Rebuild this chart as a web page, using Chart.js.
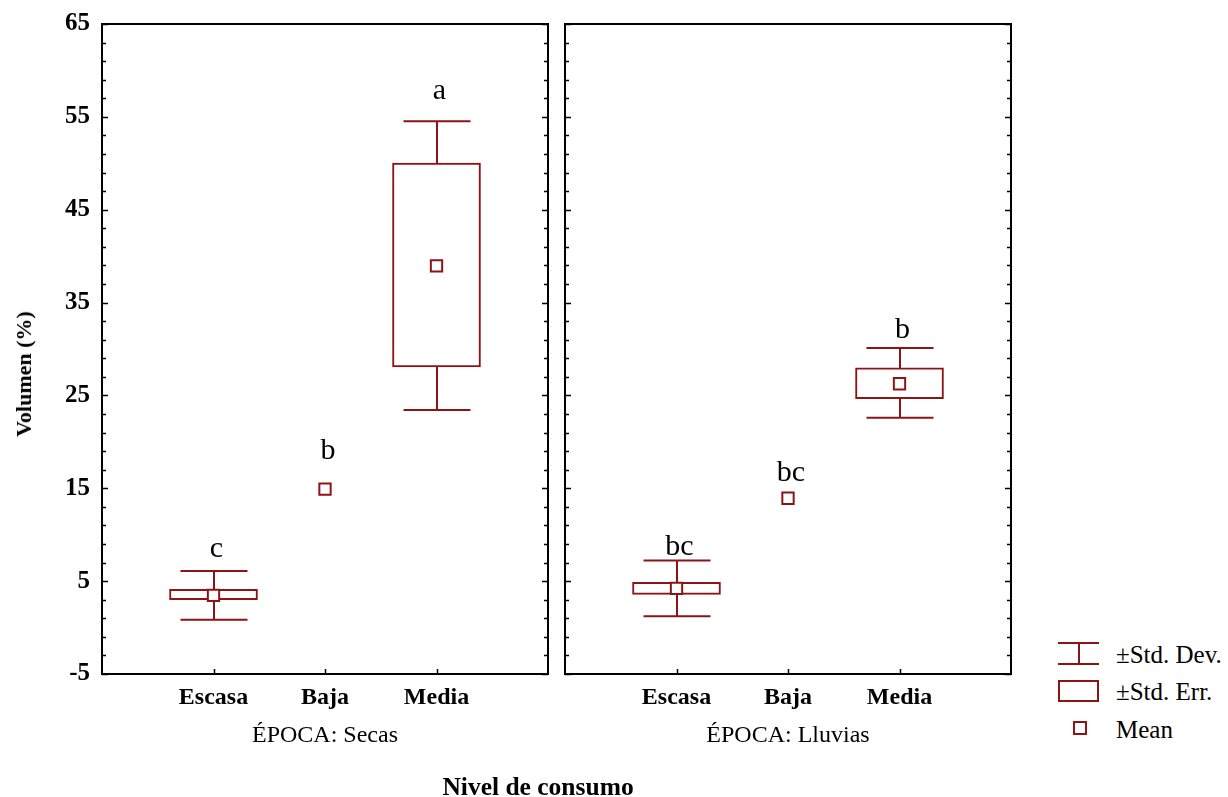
<!DOCTYPE html>
<html>
<head>
<meta charset="utf-8">
<script src="https://cdn.jsdelivr.net/npm/chart.js@4.4.0/dist/chart.umd.min.js"></script>
<style>
  html, body { margin: 0; padding: 0; background: #fff; }
  body { width: 1228px; height: 797px; position: relative; overflow: hidden; font-family: "Liberation Serif", "Times New Roman", serif; color: #000; }
  #c1 { position: absolute; left: 0; top: 0; }
  #c2 { position: absolute; left: 553px; top: 0; }
  .ytitle { position: absolute; left: 24px; top: 374px; transform: translate(-50%, -50%) rotate(-90deg); font-weight: bold; font-size: 22px; white-space: nowrap; }
  .xtitle { position: absolute; left: 538px; top: 787px; transform: translate(-50%, -50%); font-weight: bold; font-size: 25.5px; white-space: nowrap; }
  .lg { position: absolute; box-sizing: border-box; }
  .lgtext { position: absolute; left: 1116px; font-size: 25px; white-space: nowrap; transform: translateY(-50%); }
</style>
</head>
<body>
<canvas id="c1" width="560" height="797"></canvas>
<canvas id="c2" width="470" height="797"></canvas>
<div class="ytitle">Volumen (%)</div>
<div class="xtitle">Nivel de consumo</div>

<div class="lg" style="left:1058px;top:642px;width:41px;height:23px;border-top:2px solid #8c1414;border-bottom:2px solid #8c1414;"></div>
<div class="lg" style="left:1078px;top:643px;width:2px;height:21px;background:#8c1414;"></div>
<div class="lgtext" style="top:655px;">±Std. Dev.</div>
<div class="lg" style="left:1058px;top:680px;width:41px;height:22px;border:2px solid #8c1414;"></div>
<div class="lgtext" style="top:692px;">±Std. Err.</div>
<div class="lg" style="left:1073px;top:721px;width:14px;height:14px;border:2px solid #8c1414;"></div>
<div class="lgtext" style="top:730px;">Mean</div>

<script>
// ---------- data ----------
const categories = ['Escasa', 'Baja', 'Media'];
const panelTitles = ['ÉPOCA: Secas', 'ÉPOCA: Lluvias'];
const yTicks = [-5, 5, 15, 25, 35, 45, 55, 65];

const secasMean    = [3.46, 14.9, 38.95];
const secasSeLow   = [3.0, null, 28.06];
const secasSeHigh  = [4.11, null, 50.03];
const secasSdLow   = [0.84, null, 23.42];
const secasSdHigh  = [6.09, null, 54.52];
const secasLetters = ['c', 'b', 'a'];
const secasLetterAt = [8.5, 19.0, 57.8];

const lluviasMean    = [4.22, 13.93, 26.26];
const lluviasSeLow   = [3.57, null, 24.64];
const lluviasSeHigh  = [4.87, null, 27.98];
const lluviasSdLow   = [1.23, null, 22.59];
const lluviasSdHigh  = [7.21, null, 30.11];
const lluviasLetters = ['bc', 'bc', 'b'];
const lluviasLetterAt = [8.7, 16.6, 32.0];

// ---------- style ----------
const RED = '#8c1414';
const FONT = '"Liberation Serif", "Times New Roman", serif';

function makePlugin(p) {
  return {
    id: 'stats',
    beforeDatasetsDraw(chart) {
      const { ctx, scales: { x, y } } = chart;
      ctx.save();
      ctx.strokeStyle = RED;
      ctx.lineWidth = 2;
      p.sdLow.forEach((lo, i) => {
        if (lo == null) return;
        const px = Math.round(x.getPixelForValue(x.getLabels().indexOf(categories[i])));
        const yl = y.getPixelForValue(lo), yh = y.getPixelForValue(p.sdHigh[i]);
        ctx.beginPath();
        ctx.moveTo(px, yl); ctx.lineTo(px, yh);
        ctx.moveTo(px - 33.5, yl); ctx.lineTo(px + 33.5, yl);
        ctx.moveTo(px - 33.5, yh); ctx.lineTo(px + 33.5, yh);
        ctx.stroke();
      });
      ctx.restore();
    },
    afterDatasetsDraw(chart) {
      const { ctx, scales: { x, y } } = chart;
      ctx.save();
      ctx.fillStyle = '#000';
      ctx.font = '30px ' + FONT;
      ctx.textAlign = 'center';
      ctx.textBaseline = 'middle';
      p.letters.forEach((t, i) => {
        const px = x.getPixelForValue(x.getLabels().indexOf(categories[i]));
        ctx.fillText(t, px + 3, y.getPixelForValue(p.letterAt[i]));
      });
      ctx.restore();
    },
    afterDraw(chart) {
      const { ctx, chartArea: { left, right, top, bottom }, scales: { x, y } } = chart;
      ctx.save();
      ctx.strokeStyle = '#000';
      ctx.lineWidth = 2;
      ctx.strokeRect(left, top, right - left, bottom - top);
      ctx.lineWidth = 1.5;
      ctx.beginPath();
      for (let v = yTicks[0]; v <= yTicks[yTicks.length - 1]; v += 2) {
        const py = Math.round(y.getPixelForValue(v)) + 0.5;
        const len = ((v - yTicks[0]) % 10 === 0) ? 6 : 4;
        ctx.moveTo(left, py); ctx.lineTo(left + len, py);
        ctx.moveTo(right, py); ctx.lineTo(right - len, py);
      }
      categories.forEach(c => {
        const px = Math.round(x.getPixelForValue(x.getLabels().indexOf(c))) + 0.5;
        ctx.moveTo(px, bottom); ctx.lineTo(px, bottom - 5);
      });
      ctx.stroke();
      ctx.restore();
    }
  };
}

function makeChart(id, title, p, showY, padLeft) {
  const seData = [];
  p.seLow.forEach((lo, i) => { if (lo != null) seData.push({ x: categories[i], y: [lo, p.seHigh[i]] }); });
  const meanData = p.mean.map((m, i) => ({ x: categories[i], y: m }));
  return new Chart(document.getElementById(id), {
    type: 'bar',
    data: {
      labels: ['', ...categories, ''],
      datasets: [
        {
          type: 'bar', data: seData, backgroundColor: '#fff', borderColor: RED,
          borderWidth: 2, borderSkipped: false, barThickness: 88, order: 2
        },
        {
          type: 'line', data: meanData, showLine: false, pointStyle: 'rect',
          pointRadius: 8, pointBorderWidth: 2, pointBorderColor: RED,
          pointBackgroundColor: '#fff', order: 1
        }
      ]
    },
    options: {
      responsive: false,
      animation: false,
      events: [],
      layout: { padding: { top: 24, right: 12, bottom: 47, left: padLeft } },
      plugins: { legend: { display: false }, tooltip: { enabled: false } },
      scales: {
        x: {
          type: 'category', offset: false,
          grid: { display: false, drawTicks: false, offset: false },
          border: { display: false },
          ticks: { color: '#000', font: { family: FONT, size: 24, weight: 'bold' }, padding: 9, autoSkip: false, maxRotation: 0 },
          title: { display: true, text: title, color: '#000', font: { family: FONT, size: 24 }, padding: 0 },
          afterFit: s => { s.height = 76; s.paddingLeft = 0; s.paddingRight = 0; }
        },
        y: {
          type: 'linear', min: yTicks[0], max: yTicks[yTicks.length - 1], display: showY,
          afterBuildTicks: s => { s.ticks = yTicks.map(v => ({ value: v })); },
          grid: { display: false, drawTicks: false },
          border: { display: false },
          ticks: { color: '#000', font: { family: FONT, size: 25, weight: 'bold' }, padding: 12 },
          afterFit: s => { if (showY) s.width = 102; s.paddingTop = 0; s.paddingBottom = 0; }
        }
      }
    },
    plugins: [makePlugin(p)]
  });
}

makeChart('c1', panelTitles[0], {
  mean: secasMean, seLow: secasSeLow, seHigh: secasSeHigh,
  sdLow: secasSdLow, sdHigh: secasSdHigh, letters: secasLetters, letterAt: secasLetterAt
}, true, 0);

makeChart('c2', panelTitles[1], {
  mean: lluviasMean, seLow: lluviasSeLow, seHigh: lluviasSeHigh,
  sdLow: lluviasSdLow, sdHigh: lluviasSdHigh, letters: lluviasLetters, letterAt: lluviasLetterAt
}, false, 12);
</script>
</body>
</html>
